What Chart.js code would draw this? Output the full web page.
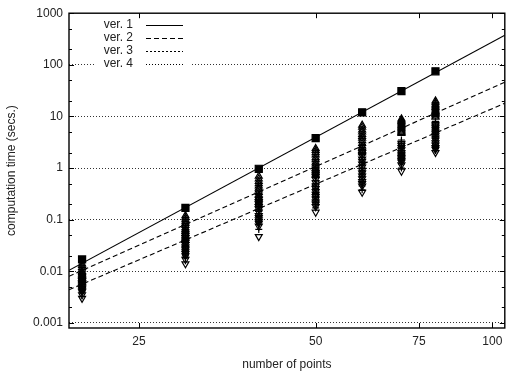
<!DOCTYPE html>
<html>
<head>
<meta charset="utf-8">
<script src="https://cdn.jsdelivr.net/npm/chart.js@4/dist/chart.umd.min.js"></script>
<style>
  html, body { margin: 0; padding: 0; background: #fff; }
  #wrap { width: 511px; height: 372px; }
</style>
</head>
<body>
<div id="wrap"><canvas id="chart"></canvas></div>
<script>
// number of points (x) for every measured column
const points = [20, 30, 40, 50, 60, 70, 80];

// ver. 1: one timing per size (filled squares)
const ver1Times = [0.017, 0.17, 0.97, 3.8, 12, 31, 75];

// ver. 2 / 3 / 4: several runs per size
const ver2Runs = [
  [0.014, 0.013, 0.012, 0.011, 0.010, 0.0095, 0.009, 0.0085, 0.008, 0.0075, 0.007, 0.0065, 0.006],
  [0.12, 0.11, 0.10, 0.092, 0.085, 0.078, 0.07, 0.065, 0.06, 0.055, 0.05, 0.045, 0.04],
  [0.7, 0.62, 0.55, 0.5, 0.45, 0.41, 0.38, 0.34, 0.3, 0.27, 0.25, 0.22, 0.2],
  [2.4, 2.2, 2.0, 1.8, 1.6, 1.45, 1.3, 1.2, 1.1, 1.0, 0.9, 0.82, 0.75],
  [6.8, 6.2, 5.5, 5.0, 4.5, 4.1, 3.8, 3.4, 3.0, 2.7, 2.5, 2.2, 2.0],
  [9.0, 8.5, 8.0, 7.6, 7.2, 6.8, 6.5, 6.1, 5.8, 5.5, 5.2, 4.9, 4.7],
  [20, 18.5, 17, 16, 15, 14, 13, 12.5, 12, 11.5, 11, 10.3, 9.7]
];
const ver3Runs = [
  [0.009, 0.008, 0.0075, 0.007, 0.0065, 0.006, 0.0055, 0.005, 0.0047, 0.0044, 0.004],
  [0.065, 0.06, 0.055, 0.05, 0.046, 0.042, 0.038, 0.035, 0.032, 0.03, 0.027, 0.025, 0.022, 0.02, 0.018],
  [0.32, 0.3, 0.27, 0.25, 0.22, 0.2, 0.18, 0.16, 0.145, 0.13, 0.115, 0.1, 0.09, 0.08, 0.065],
  [1.0, 0.9, 0.8, 0.72, 0.65, 0.57, 0.5, 0.45, 0.4, 0.36, 0.32, 0.28, 0.25, 0.22, 0.2, 0.17],
  [2.5, 2.2, 2.0, 1.8, 1.6, 1.45, 1.3, 1.15, 1.0, 0.9, 0.8, 0.7, 0.6, 0.52, 0.45, 0.38],
  [3.5, 3.2, 3.0, 2.8, 2.6, 2.4, 2.2, 2.05, 1.9, 1.75, 1.6, 1.5, 1.4, 1.2, 1.0],
  [8, 7.2, 6.5, 6.0, 5.5, 5.0, 4.5, 4.1, 3.8, 3.5, 3.2, 2.9, 2.6, 2.4, 2.2]
];
const ver4Runs = [
  [0.007, 0.0065, 0.006, 0.0055, 0.005, 0.0047, 0.0045, 0.0042, 0.004, 0.0035, 0.003],
  [0.05, 0.045, 0.04, 0.036, 0.033, 0.03, 0.028, 0.026, 0.024, 0.022, 0.02, 0.017, 0.014],
  [0.25, 0.22, 0.2, 0.18, 0.16, 0.14, 0.12, 0.11, 0.1, 0.092, 0.085, 0.075, 0.047],
  [0.8, 0.7, 0.6, 0.52, 0.45, 0.4, 0.35, 0.31, 0.28, 0.25, 0.22, 0.2, 0.18, 0.14],
  [2.0, 1.75, 1.5, 1.35, 1.2, 1.05, 0.9, 0.8, 0.7, 0.62, 0.55, 0.5, 0.45, 0.34],
  [3.0, 2.75, 2.5, 2.25, 2.0, 1.85, 1.7, 1.6, 1.5, 1.4, 1.3, 1.15, 0.87],
  [7, 6.5, 6, 5.5, 5, 4.6, 4.2, 3.8, 3.5, 3.1, 2.8, 2.5, 2.3, 2.0]
];

// fitted power-law lines, read at both ends of the x range
const fitX = [19, 105];
const fit1 = [0.0105, 375];
const fit2 = [0.008, 46];
const fit3 = [0.0044, 18];

const xTicks = [25, 50, 75, 100];
const yTicks = [0.001, 0.01, 0.1, 1, 10, 100, 1000];
const yMinorTicks = [0.002, 0.005, 0.02, 0.05, 0.2, 0.5, 2, 5, 20, 50, 200, 500];

const legendNames = ["ver. 1", "ver. 2", "ver. 3", "ver. 4"];
const legendDashes = [[], [5, 3], [2, 2], [1, 2]];

const FONT = "'Liberation Sans', Arial, sans-serif";
const INK = "#222";

function runsToXY(runs) {
  const out = [];
  runs.forEach((vals, i) => vals.forEach(v => out.push({ x: points[i], y: v })));
  return out;
}
const pairXY = (ys) => fitX.map((x, i) => ({ x: x, y: ys[i] }));

// frame, inward tick marks, x labels and the in-plot key
const gnuplotBits = {
  id: "gnuplotBits",
  beforeDatasetsDraw(chart) {
    const ctx = chart.ctx;
    ctx.save();
    ctx.fillStyle = "#fff";
    ctx.fillRect(95, 18, 95, 52);
    ctx.font = "12px " + FONT;
    ctx.fillStyle = INK;
    ctx.textAlign = "right";
    ctx.textBaseline = "middle";
    legendNames.forEach((name, i) => {
      const y = 25 + i * 13;
      ctx.fillText(name, 133, y);
      ctx.beginPath();
      ctx.setLineDash(legendDashes[i]);
      ctx.strokeStyle = "#000";
      ctx.lineWidth = 1;
      ctx.moveTo(146, y + 0.5);
      ctx.lineTo(183, y + 0.5);
      ctx.stroke();
    });
    ctx.restore();
  },
  afterDraw(chart) {
    const ctx = chart.ctx;
    const a = chart.chartArea;
    const xs = chart.scales.x, ys = chart.scales.y;
    ctx.save();
    // x tick labels (the log scale's own labels skip 75)
    ctx.font = "12px " + FONT;
    ctx.fillStyle = INK;
    ctx.textAlign = "center";
    ctx.textBaseline = "middle";
    xTicks.forEach(v => ctx.fillText(String(v), xs.getPixelForValue(v), a.bottom + 14));

    ctx.strokeStyle = "#000";
    ctx.lineWidth = 1;
    ctx.beginPath();
    xTicks.forEach(v => {
      const px = Math.round(xs.getPixelForValue(v)) + 0.5;
      ctx.moveTo(px, a.bottom); ctx.lineTo(px, a.bottom - 5);
      ctx.moveTo(px, a.top); ctx.lineTo(px, a.top + 5);
    });
    yTicks.forEach(v => {
      const py = Math.round(ys.getPixelForValue(v)) + 0.5;
      ctx.moveTo(a.left, py); ctx.lineTo(a.left + 5, py);
      ctx.moveTo(a.right, py); ctx.lineTo(a.right - 5, py);
    });
    yMinorTicks.forEach(v => {
      const py = Math.round(ys.getPixelForValue(v)) + 0.5;
      ctx.moveTo(a.left, py); ctx.lineTo(a.left + 3, py);
      ctx.moveTo(a.right, py); ctx.lineTo(a.right - 3, py);
    });
    ctx.stroke();
    ctx.lineWidth = 1.4;
    ctx.strokeRect(a.left, a.top, a.right - a.left, a.bottom - a.top);
    ctx.restore();
  }
};

const pointStyleBase = {
  type: "scatter",
  showLine: false,
  borderColor: "#000",
  borderWidth: 1.2,
  backgroundColor: "rgba(0,0,0,0)"
};

new Chart(document.getElementById("chart"), {
  type: "scatter",
  data: {
    datasets: [
      { type: "line", data: pairXY(fit1), borderColor: "#000", borderWidth: 1.1, pointRadius: 0, fill: false },
      { type: "line", data: pairXY(fit2), borderColor: "#000", borderWidth: 1.1, borderDash: [5, 3], pointRadius: 0, fill: false },
      { type: "line", data: pairXY(fit3), borderColor: "#000", borderWidth: 1.1, borderDash: [5, 3], pointRadius: 0, fill: false },
      Object.assign({}, pointStyleBase, { data: runsToXY(ver2Runs), pointStyle: "triangle", pointRadius: 4 }),
      Object.assign({}, pointStyleBase, { data: runsToXY(ver3Runs), pointStyle: "cross", pointRadius: 3.5 }),
      Object.assign({}, pointStyleBase, { data: runsToXY(ver4Runs), pointStyle: "triangle", rotation: 180, pointRadius: 4 }),
      Object.assign({}, pointStyleBase, {
        data: points.map((x, i) => ({ x: x, y: ver1Times[i] })),
        pointStyle: "rect", pointRadius: 5, backgroundColor: "#000"
      })
    ]
  },
  options: {
    responsive: true,
    maintainAspectRatio: false,
    animation: false,
    layout: { padding: { top: 13, right: 4, left: 0, bottom: 0 } },
    plugins: { legend: { display: false }, tooltip: { enabled: false } },
    scales: {
      x: {
        type: "logarithmic",
        min: 19,
        max: 105,
        afterBuildTicks: (s) => { s.ticks = xTicks.map(v => ({ value: v })); },
        afterFit: (s) => { s.height = 44; },
        grid: { display: false, drawTicks: false },
        border: { display: false },
        ticks: { display: false },
        title: {
          display: true, text: "number of points", color: INK,
          font: { family: FONT, size: 12 }, padding: { top: 2, bottom: 0 }
        }
      },
      y: {
        type: "logarithmic",
        min: 0.0008,
        max: 1000,
        afterBuildTicks: (s) => { s.ticks = yTicks.map(v => ({ value: v })); },
        afterFit: (s) => { s.width = 69; },
        grid: {
          drawTicks: false,
          color: (c) => (c.tick && c.tick.value === 1000 ? "rgba(0,0,0,0)" : "#333"),
          lineWidth: 1
        },
        border: { display: false, dash: [1, 2] },
        ticks: {
          padding: 6,
          color: INK, font: { family: FONT, size: 12 },
          callback: (v) => String(v)
        },
        title: {
          display: true, text: "computation time (secs.)", color: INK,
          font: { family: FONT, size: 12 }, padding: { top: 4, bottom: 0 }
        }
      }
    }
  },
  plugins: [gnuplotBits]
});
</script>
</body>
</html>
